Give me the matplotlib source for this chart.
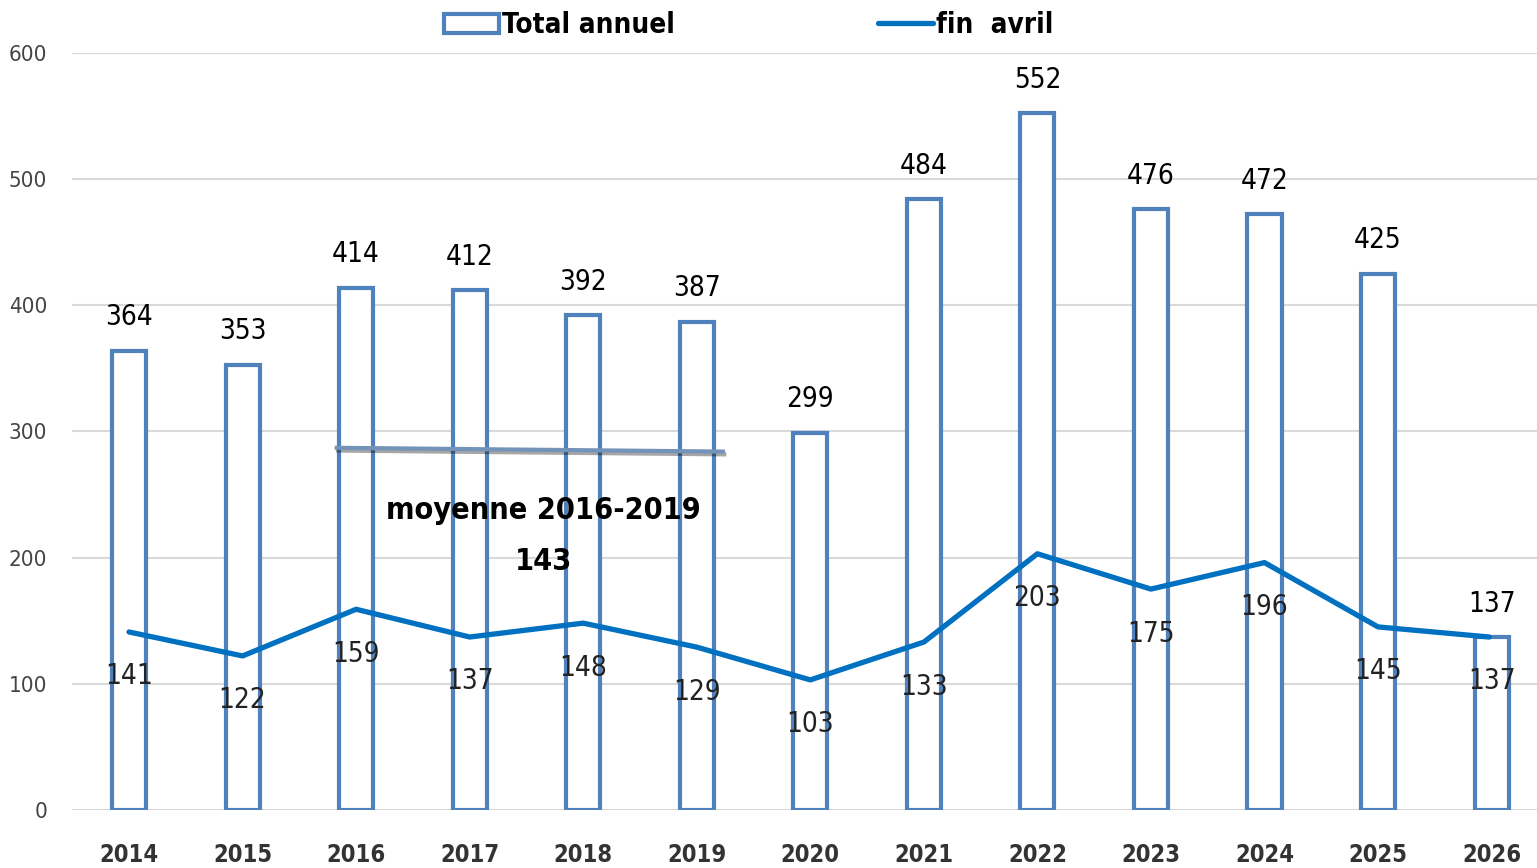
import matplotlib.pyplot as plt
import matplotlib.patheffects as pe
import numpy as np

plt.rcParams['font.family'] = ['DejaVu Sans']
plt.rcParams['font.stretch'] = 'condensed'

years = ['2014', '2015', '2016', '2017', '2018', '2019', '2020',
         '2021', '2022', '2023', '2024', '2025', '2026']
total_annuel = [364, 353, 414, 412, 392, 387, 299, 484, 552, 476, 472, 425, 137]
fin_avril = [141, 122, 159, 137, 148, 129, 103, 133, 203, 175, 196, 145, 137]
moyenne_y = [287, 284]
moyenne_label = 'moyenne 2016-2019'
moyenne_val = 143

bar_col = '#4f81bd'
line_col = '#0070c0'

fig = plt.figure(figsize=(15.37, 8.68), dpi=100)
ax = fig.add_axes([0.047, 0.067, 0.953, 0.872])
x = np.arange(len(years))

bars = ax.bar(x, total_annuel, width=0.3, facecolor='white', edgecolor=bar_col,
              linewidth=3, label='Total annuel', zorder=2)
ln, = ax.plot(x[:-1].tolist() + [x[-1] - 0.02], fin_avril, color=line_col, lw=3.8,
              solid_capstyle='round', label='fin  avril', zorder=3)

for xi, v in zip(x, total_annuel):
    ax.annotate(str(v), (xi, v), xytext=(0, 24), textcoords='offset points',
                ha='center', va='center', fontsize=20, color='black')
for xi, v in zip(x, fin_avril):
    ax.annotate(str(v), (xi, v), xytext=(0, -32), textcoords='offset points',
                ha='center', va='center', fontsize=20, color='#222222', zorder=4)

# moyenne line
ax.plot([1.83, 5.23], moyenne_y, color='#7393b8', lw=3, zorder=4,
        path_effects=[pe.SimpleLineShadow(offset=(1, -2), alpha=0.35), pe.Normal()])
ax.text(3.65, 237, moyenne_label, ha='center', va='center', fontsize=22,
        fontweight='bold', color='black', zorder=5)
ax.text(3.65, 197, str(moyenne_val), ha='center', va='center', fontsize=22,
        fontweight='bold', color='black', zorder=5)

ax.set_xlim(-0.5, 12.4)
ax.set_ylim(0, 600)
ax.set_yticks(range(0, 601, 100))
ax.set_xticks(x)
ax.set_xticklabels(years, fontsize=17, fontweight='bold', color='#333333')
ax.tick_params(axis='y', labelsize=16, colors='#444444', length=0, pad=18)
ax.tick_params(axis='x', length=0, pad=24)
ax.grid(axis='y', color='#d9d9d9', lw=1.5, zorder=0)
for s in ax.spines.values():
    s.set_visible(False)
ax.axhline(0, color='#d9d9d9', lw=2, zorder=1)

fig.legend(handles=[bars, ln], loc='upper center', bbox_to_anchor=(0.487, 1.016),
           ncol=2, frameon=False, columnspacing=7.3,
           handlelength=2.0, handletextpad=0.1, prop={'weight': 'bold', 'size': 20})

fig.savefig('out.png', dpi=100)
